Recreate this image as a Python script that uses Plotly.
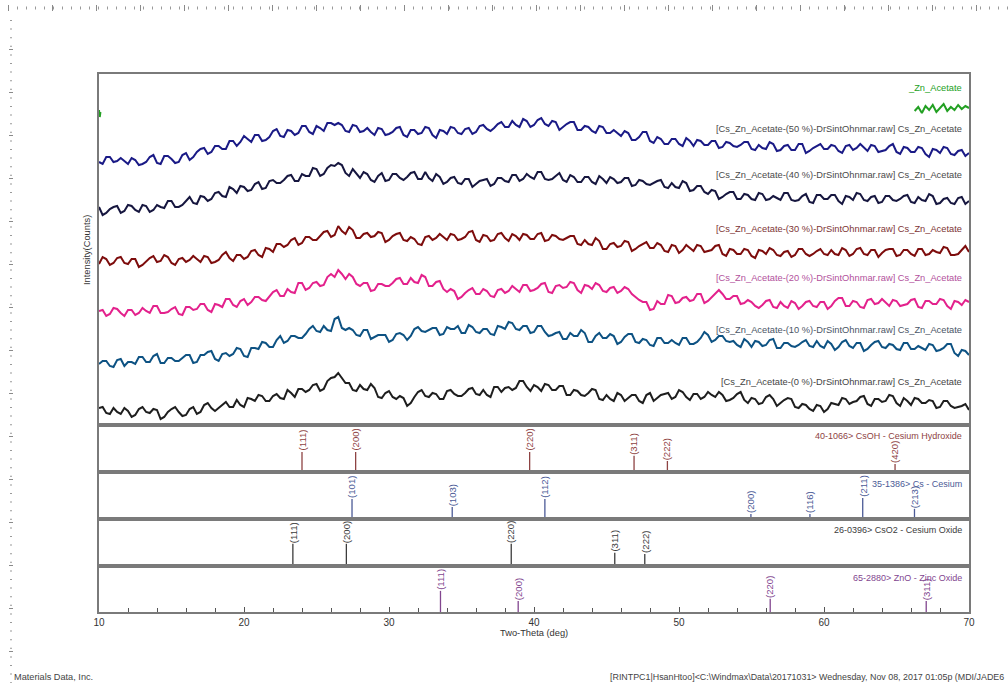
import plotly.graph_objects as go

# ---------------- data ----------------
two_theta = [10 + 0.25 * i for i in range(241)]  # scan grid, 0.25 deg step

cs0 = [15, 16, 10, 9, 15, 11, 9, 15, 12, 6, 8, 14, 16, 11, 10, 14, 13, 4, 6, 11,
       14, 16, 11, 7, 8, 14, 16, 9, 11, 18, 20, 15, 12, 15, 18, 21, 16, 16, 23, 18,
       16, 25, 24, 22, 28, 27, 22, 22, 27, 29, 25, 24, 33, 30, 26, 34, 34, 31, 33, 38,
       39, 32, 34, 42, 45, 46, 50, 45, 40, 40, 33, 32, 38, 34, 33, 39, 35, 26, 25, 30,
       32, 26, 24, 27, 25, 17, 20, 26, 31, 33, 27, 26, 30, 29, 24, 24, 32, 33, 29, 27,
       27, 30, 34, 35, 29, 28, 33, 28, 26, 36, 36, 31, 35, 36, 33, 35, 42, 42, 36, 32,
       38, 36, 32, 39, 38, 33, 33, 37, 37, 28, 28, 33, 32, 28, 27, 30, 34, 33, 24, 23,
       28, 24, 22, 30, 28, 22, 25, 28, 28, 22, 20, 28, 30, 22, 25, 28, 29, 30, 24, 26,
       33, 31, 26, 23, 29, 29, 24, 26, 31, 28, 26, 31, 28, 22, 23, 25, 29, 31, 23, 20,
       25, 24, 19, 20, 26, 28, 24, 17, 20, 23, 25, 24, 16, 15, 19, 18, 14, 12, 18, 17,
       11, 14, 20, 19, 18, 25, 24, 19, 21, 22, 26, 27, 19, 17, 24, 24, 21, 22, 28, 27,
       20, 17, 25, 22, 18, 25, 24, 20, 20, 23, 22, 15, 16, 22, 22, 17, 15, 16, 17, 19, 13]
cs10 = [59, 62, 62, 57, 56, 63, 64, 57, 61, 61, 59, 66, 66, 61, 61, 67, 69, 60, 60, 65,
        65, 62, 62, 65, 68, 68, 60, 61, 68, 68, 71, 72, 64, 62, 69, 70, 67, 69, 75, 74,
        67, 66, 75, 75, 74, 81, 80, 76, 76, 83, 87, 80, 82, 87, 87, 85, 85, 89, 94, 97,
        92, 91, 97, 93, 92, 104, 106, 95, 93, 95, 93, 88, 87, 93, 93, 84, 86, 88, 88, 88,
        81, 83, 89, 90, 88, 83, 87, 94, 96, 92, 91, 93, 95, 95, 88, 89, 96, 94, 94, 97,
        90, 90, 98, 96, 91, 90, 94, 94, 89, 88, 97, 96, 94, 101, 100, 94, 93, 97, 97, 90,
        91, 97, 97, 91, 87, 88, 90, 91, 84, 84, 90, 87, 87, 93, 90, 81, 81, 87, 90, 85,
        85, 89, 87, 79, 81, 86, 89, 89, 81, 80, 84, 83, 78, 77, 85, 85, 80, 80, 83, 80,
        78, 85, 85, 79, 79, 81, 85, 91, 88, 81, 83, 87, 87, 82, 81, 82, 78, 76, 84, 81,
        76, 82, 81, 77, 78, 83, 84, 75, 75, 80, 80, 77, 76, 78, 81, 83, 77, 76, 82, 77,
        75, 82, 79, 73, 76, 81, 83, 77, 75, 80, 80, 72, 74, 78, 81, 82, 76, 75, 79, 78,
        74, 73, 80, 80, 74, 74, 77, 75, 73, 79, 78, 72, 73, 75, 79, 79, 70, 67, 73, 72, 68]
cs20 = [112, 113, 107, 109, 115, 114, 110, 107, 113, 113, 108, 110, 115, 112, 110, 117, 117, 110, 110, 111,
        114, 116, 109, 108, 116, 116, 113, 114, 119, 119, 113, 111, 119, 118, 116, 124, 124, 118, 116, 122,
        124, 118, 121, 126, 126, 123, 122, 126, 131, 133, 127, 127, 134, 131, 130, 140, 140, 133, 135, 140,
        141, 137, 138, 146, 149, 146, 153, 149, 144, 149, 146, 139, 137, 140, 140, 132, 133, 139, 139, 137,
        137, 140, 144, 145, 139, 139, 145, 141, 140, 148, 146, 137, 137, 141, 142, 134, 131, 134, 132, 124,
        126, 130, 133, 135, 129, 129, 134, 132, 127, 126, 133, 134, 130, 132, 137, 134, 131, 138, 138, 132,
        133, 135, 139, 140, 131, 130, 137, 138, 135, 136, 141, 140, 133, 130, 138, 137, 134, 140, 138, 132,
        131, 135, 136, 130, 132, 136, 134, 129, 126, 123, 121, 121, 113, 114, 122, 119, 119, 128, 127, 120,
        121, 125, 126, 122, 123, 129, 129, 120, 122, 126, 129, 133, 129, 124, 124, 127, 127, 119, 120, 123,
        121, 117, 115, 118, 122, 123, 116, 115, 121, 117, 115, 122, 120, 114, 117, 121, 122, 117, 116, 121,
        121, 114, 117, 122, 125, 125, 117, 117, 122, 121, 116, 115, 123, 124, 119, 120, 124, 120, 117, 123,
        122, 117, 118, 119, 123, 124, 116, 115, 122, 122, 119, 119, 124, 123, 117, 114, 122, 121, 118, 123, 121]
cs30 = [159, 166, 164, 158, 160, 165, 166, 160, 159, 164, 164, 156, 158, 162, 165, 167, 161, 162, 168, 166,
        160, 158, 164, 165, 161, 163, 167, 164, 161, 167, 166, 160, 161, 163, 168, 171, 165, 162, 168, 168,
        164, 166, 172, 173, 168, 166, 175, 174, 171, 179, 179, 176, 178, 183, 185, 178, 180, 186, 186, 183,
        183, 187, 191, 192, 186, 188, 197, 192, 189, 196, 193, 185, 185, 189, 190, 186, 187, 191, 190, 181,
        183, 187, 189, 190, 183, 182, 186, 184, 179, 178, 186, 187, 183, 185, 189, 186, 183, 189, 188, 183,
        184, 186, 191, 192, 183, 181, 188, 187, 182, 183, 189, 190, 185, 182, 189, 187, 183, 189, 188, 184,
        184, 189, 190, 182, 183, 188, 187, 184, 183, 185, 187, 187, 179, 178, 183, 179, 178, 185, 182, 174,
        174, 179, 180, 176, 177, 182, 181, 172, 174, 177, 179, 181, 175, 175, 180, 178, 172, 171, 178, 177,
        170, 173, 178, 175, 172, 178, 177, 171, 172, 173, 177, 178, 169, 167, 174, 173, 169, 169, 174, 173,
        167, 165, 173, 172, 169, 175, 173, 168, 167, 171, 172, 166, 168, 174, 174, 169, 167, 169, 172, 174,
        169, 168, 173, 169, 168, 175, 173, 167, 169, 174, 175, 169, 168, 173, 173, 166, 170, 173, 174, 174,
        167, 168, 173, 173, 169, 167, 174, 174, 168, 169, 173, 171, 170, 176, 175, 168, 168, 169, 173, 177, 171]
cs40 = [216, 208, 210, 214, 216, 217, 210, 212, 218, 217, 213, 211, 218, 217, 211, 213, 218, 216, 215, 222,
        222, 216, 216, 218, 222, 226, 220, 219, 227, 226, 222, 224, 230, 231, 227, 226, 236, 234, 230, 237,
        236, 232, 233, 239, 241, 234, 235, 242, 243, 240, 240, 243, 247, 248, 242, 242, 249, 247, 247, 255,
        254, 247, 249, 255, 258, 257, 260, 258, 250, 247, 254, 250, 245, 251, 249, 243, 241, 247, 250, 242,
        243, 249, 249, 245, 243, 246, 250, 251, 244, 244, 251, 245, 242, 249, 246, 239, 241, 245, 246, 240,
        239, 244, 244, 236, 239, 242, 243, 244, 237, 239, 245, 245, 242, 241, 248, 248, 242, 244, 249, 246,
        244, 251, 251, 244, 243, 244, 247, 250, 243, 241, 248, 246, 241, 241, 246, 246, 241, 239, 247, 244,
        240, 246, 244, 240, 241, 245, 245, 237, 238, 243, 242, 239, 238, 240, 242, 243, 236, 235, 240, 236,
        235, 242, 240, 232, 233, 237, 237, 231, 229, 233, 232, 224, 226, 229, 231, 231, 224, 224, 229, 228,
        224, 223, 230, 229, 223, 224, 227, 225, 223, 230, 230, 223, 222, 223, 227, 229, 221, 220, 228, 228,
        224, 224, 228, 228, 222, 219, 227, 226, 223, 230, 229, 223, 222, 226, 227, 220, 221, 227, 227, 223,
        222, 224, 227, 228, 221, 220, 226, 223, 222, 229, 227, 219, 220, 224, 225, 220, 219, 225, 226, 219, 222]
cs50 = [261, 259, 266, 266, 261, 262, 265, 262, 259, 265, 263, 258, 259, 261, 266, 268, 260, 259, 267, 267,
        264, 260, 261, 268, 270, 263, 266, 271, 274, 275, 269, 271, 277, 277, 274, 274, 282, 282, 277, 281,
        287, 284, 281, 288, 288, 282, 283, 286, 292, 294, 287, 286, 293, 292, 288, 290, 297, 297, 291, 289,
        297, 295, 292, 300, 300, 298, 300, 298, 292, 291, 298, 297, 291, 292, 295, 291, 288, 295, 294, 288,
        289, 291, 295, 296, 288, 286, 293, 293, 289, 290, 296, 295, 288, 285, 293, 292, 289, 296, 295, 290,
        289, 294, 295, 289, 291, 297, 298, 294, 292, 295, 299, 301, 296, 296, 302, 298, 296, 304, 302, 296,
        298, 303, 305, 299, 297, 302, 301, 293, 296, 299, 301, 301, 293, 293, 297, 296, 292, 290, 297, 296,
        290, 290, 293, 290, 287, 292, 290, 283, 283, 286, 291, 291, 282, 280, 286, 284, 279, 279, 284, 284,
        279, 277, 285, 282, 277, 283, 282, 278, 278, 282, 282, 275, 276, 281, 280, 277, 276, 278, 281, 281,
        274, 273, 278, 275, 274, 281, 279, 272, 273, 277, 278, 273, 273, 279, 279, 270, 272, 275, 277, 279,
        274, 274, 278, 277, 272, 270, 277, 278, 273, 275, 279, 275, 272, 278, 277, 271, 272, 273, 277, 279,
        271, 269, 276, 275, 271, 271, 276, 275, 269, 266, 274, 273, 270, 276, 275, 269, 268, 272, 273, 267, 270]

# Zn_Acetate: on scale only at the very start and above 66 deg (off-scale in between)
zn_theta = [10.0, 10.05, 10.1, None, 66.25, 66.5, 66.75, 67.0, 67.25, 67.5, 67.75, 68.0,
            68.25, 68.5, 68.75, 69.0, 69.25, 69.5, 69.75, 70.0]
zn_acetate = [313, 306, 311, None, 312, 316, 310, 317, 313, 318, 311, 315,
              319, 312, 316, 313, 318, 314, 317, 315]

scan_labels = ["[Cs_Zn_Acetate-(0 %)-DrSintOhnmar.raw] Cs_Zn_Acetate",
               "[Cs_Zn_Acetate-(10 %)-DrSintOhnmar.raw] Cs_Zn_Acetate",
               "[Cs_Zn_Acetate-(20 %)-DrSintOhnmar.raw] Cs_Zn_Acetate",
               "[Cs_Zn_Acetate-(30 %)-DrSintOhnmar.raw] Cs_Zn_Acetate",
               "[Cs_Zn_Acetate-(40 %)-DrSintOhnmar.raw] Cs_Zn_Acetate",
               "[Cs_Zn_Acetate-(50 %)-DrSintOhnmar.raw] Cs_Zn_Acetate"]
zn_label = "_Zn_Acetate"

# reference patterns (position in 2-theta, relative stick height in % of panel, hkl)
csoh_pos = [24.0, 27.7, 39.7, 46.9, 49.2, 64.9]
csoh_int = [42, 42, 42, 33, 21, 14]
csoh_hkl = ["(111)", "(200)", "(220)", "(311)", "(222)", "(420)"]

cs_pos = [27.45, 34.36, 40.75, 54.96, 59.03, 62.67, 66.24]
cs_int = [42, 23, 42, 7, 7, 44, 19]
cs_hkl = ["(101)", "(103)", "(112)", "(200)", "(116)", "(211)", "(213)"]

cso2_pos = [23.37, 27.06, 38.43, 45.57, 47.64]
cso2_int = [47, 47, 47, 26, 23]
cso2_hkl = ["(111)", "(200)", "(220)", "(311)", "(222)"]

zno_pos = [33.55, 38.91, 56.29, 67.05]
zno_int = [48, 25, 30, 25]
zno_hkl = ["(111)", "(200)", "(220)", "(311)"]

ref_titles = ["40-1066> CsOH - Cesium Hydroxide", "35-1386> Cs - Cesium",
              "26-0396> CsO2 - Cesium Oxide", "65-2880> ZnO - Zinc Oxide"]

x_ticks = [10, 20, 30, 40, 50, 60, 70]

# ---------------- styling ----------------
W, H = 1008, 683
FONT = "Liberation Sans, Arial, sans-serif"
BORDER = "#7a7a7a"

def px_x(p):
    return p / W

def px_y(p):
    return 1 - p / H

x_dom = [px_x(99), px_x(969)]
main_dom = [px_y(423), px_y(74)]
ref_doms = [[px_y(470), px_y(427)], [px_y(517), px_y(474)],
            [px_y(564), px_y(521)], [px_y(612), px_y(568)]]

scan_colors = ["#1e1e1e", "#0d5283", "#e3218c", "#7d0c0c", "#16163f", "#1a1a86"]
label_colors = ["#444444", "#4a5566", "#b2519c", "#7d3434", "#4a4a4a", "#4a4a4a"]
label_y_px = [382, 330, 278, 229, 175, 129]
zn_color = "#23a023"

ref_colors = ["#8e4343", "#4b5a96", "#3c3c3c", "#82468f"]
ref_title_y_px = [436, 484, 530, 578]

fig = go.Figure()

scans = [cs0, cs10, cs20, cs30, cs40, cs50]
for vals, col in zip(scans, scan_colors):
    fig.add_trace(go.Scatter(x=two_theta[:len(vals)], y=vals, mode="lines",
                             line=dict(color=col, width=2.0),
                             xaxis="x", yaxis="y", hoverinfo="skip"))
fig.add_trace(go.Scatter(x=zn_theta, y=zn_acetate, mode="lines", connectgaps=False,
                         line=dict(color=zn_color, width=2.0),
                         xaxis="x", yaxis="y", hoverinfo="skip"))

refs = [(csoh_pos, csoh_int, csoh_hkl), (cs_pos, cs_int, cs_hkl),
        (cso2_pos, cso2_int, cso2_hkl), (zno_pos, zno_int, zno_hkl)]

annotations = []
for k, ((pos, inten, hkl), col) in enumerate(zip(refs, ref_colors)):
    ax = "x%d" % (k + 2)
    ay = "y%d" % (k + 2)
    xs, ys = [], []
    for p, v in zip(pos, inten):
        xs += [p, p, None]
        ys += [0, v, None]
    fig.add_trace(go.Scatter(x=xs, y=ys, mode="lines",
                             line=dict(color=col, width=1.3),
                             xaxis=ax, yaxis=ay, hoverinfo="skip"))
    for p, v, t in zip(pos, inten, hkl):
        annotations.append(dict(x=p, y=v, xref=ax, yref=ay, text=t, showarrow=False,
                                textangle=-90, xanchor="center", yanchor="bottom",
                                borderpad=0,
                                font=dict(family=FONT, size=9.6, color=col)))
    annotations.append(dict(x=px_x(964), y=px_y(ref_title_y_px[k]), xref="paper", yref="paper",
                            text=ref_titles[k], showarrow=False, xanchor="right", yanchor="middle",
                            font=dict(family=FONT, size=9, color=col)))

for t, c, yp in zip(scan_labels, label_colors, label_y_px):
    annotations.append(dict(x=px_x(964), y=px_y(yp), xref="paper", yref="paper", text=t,
                            showarrow=False, xanchor="right", yanchor="middle",
                            font=dict(family=FONT, size=9.3, color=c)))
annotations.append(dict(x=px_x(964), y=px_y(88), xref="paper", yref="paper", text=zn_label,
                        showarrow=False, xanchor="right", yanchor="middle",
                        font=dict(family=FONT, size=9.3, color=zn_color)))

annotations.append(dict(x=px_x(87), y=px_y(250), xref="paper", yref="paper",
                        text="Intensity(Counts)", showarrow=False, textangle=-90,
                        xanchor="center", yanchor="middle",
                        font=dict(family=FONT, size=9.3, color="#333333")))
annotations.append(dict(x=px_x(534), y=px_y(633), xref="paper", yref="paper",
                        text="Two-Theta (deg)", showarrow=False, xanchor="center", yanchor="middle",
                        font=dict(family=FONT, size=9.3, color="#333333")))
annotations.append(dict(x=px_x(12), y=px_y(677), xref="paper", yref="paper",
                        text="Materials Data, Inc.", showarrow=False, xanchor="left", yanchor="middle",
                        font=dict(family=FONT, size=9.2, color="#444444")))
annotations.append(dict(x=px_x(1006), y=px_y(677), xref="paper", yref="paper",
                        text="[RINTPC1|HsanHtoo]<C:\\Windmax\\Data\\20171031> Wednesday, Nov 08, 2017 01:05p (MDI/JADE6",
                        showarrow=False, xanchor="right", yanchor="middle",
                        font=dict(family=FONT, size=8.9, color="#444444")))

def base_x(anchor, show_labels=False):
    d = dict(domain=x_dom, range=[10, 70], anchor=anchor, showgrid=False, zeroline=False,
             showline=True, linecolor=BORDER, linewidth=1.5, mirror=True,
             fixedrange=True, automargin=False)
    if show_labels:
        d.update(tickmode="array", tickvals=x_ticks, ticktext=[str(v) for v in x_ticks],
                 ticks="inside", ticklen=5, tickcolor="#555555", tickwidth=1,
                 minor=dict(dtick=2, tick0=10, ticks="inside", ticklen=4,
                            tickcolor="#555555", tickwidth=1),
                 tickfont=dict(family=FONT, size=10, color="#333333"))
    else:
        d.update(showticklabels=False, ticks="", matches="x5")
    return d

def base_y(anchor, dom, rng):
    return dict(domain=dom, range=rng, anchor=anchor, showgrid=False, zeroline=False,
                showline=True, linecolor=BORDER, linewidth=1.5, mirror=True,
                showticklabels=False, ticks="", fixedrange=True, automargin=False)

layout = dict(
    width=W, height=H, autosize=False, margin=dict(l=0, r=0, t=0, b=0, pad=0),
    paper_bgcolor="white", plot_bgcolor="white", showlegend=False,
    xaxis=base_x("y"), yaxis=base_y("x", main_dom, [0, 349]),
    xaxis2=base_x("y2"), yaxis2=base_y("x2", ref_doms[0], [0, 100]),
    xaxis3=base_x("y3"), yaxis3=base_y("x3", ref_doms[1], [0, 100]),
    xaxis4=base_x("y4"), yaxis4=base_y("x4", ref_doms[2], [0, 100]),
    xaxis5=base_x("y5", show_labels=True), yaxis5=base_y("x5", ref_doms[3], [0, 100]),
    annotations=annotations,
)

# page rulers (decorative frame of the printout)
shapes = [
    dict(type="line", xref="paper", yref="paper", x0=px_x(8), x1=1, y0=px_y(8), y1=px_y(8),
         line=dict(color="#9a9a9a", width=3, dash="1px,8px")),
    dict(type="line", xref="paper", yref="paper", x0=px_x(8), x1=1, y0=px_y(8), y1=px_y(8),
         line=dict(color="#8a8a8a", width=6, dash="1px,43px")),
    dict(type="line", xref="paper", yref="paper", x0=px_x(11), x1=px_x(11), y0=px_y(20), y1=0,
         line=dict(color="#9a9a9a", width=2, dash="1px,7.6px")),
    dict(type="line", xref="paper", yref="paper", x0=px_x(11), x1=px_x(11), y0=px_y(49), y1=0,
         line=dict(color="#8a8a8a", width=4, dash="1px,42px")),
]
layout["shapes"] = shapes

fig.update_layout(**layout)
fig.write_html("out.html", config={"responsive": False, "displayModeBar": False},
               post_script="document.body.style.margin='0';document.body.style.overflow='hidden';")
